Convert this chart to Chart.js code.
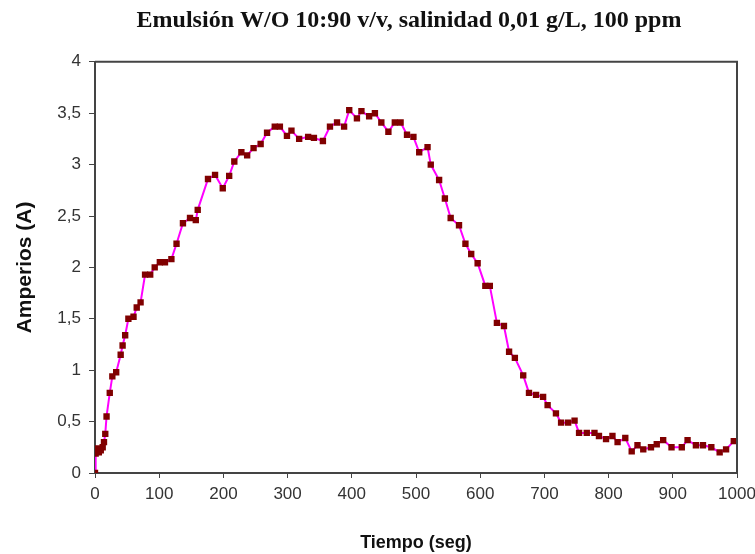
<!DOCTYPE html>
<html>
<head>
<meta charset="utf-8">
<script src="https://cdn.jsdelivr.net/npm/chart.js@4.4.1/dist/chart.umd.min.js"></script>
<style>
html,body{margin:0;padding:0;background:#fff;}
#wrap{width:755px;height:554px;position:relative;}
</style>
</head>
<body>
<div id="wrap"><canvas id="c" width="755" height="554"></canvas></div>
<script>
const chartTitle = "Emulsión W/O 10:90 v/v, salinidad 0,01 g/L, 100 ppm";
const xAxisTitle = "Tiempo (seg)";
const yAxisTitle = "Amperios (A)";
const seriesName = "Amperios";

const tiempo = [0,1,3,6,9,12,14,16,18,23,27,33,40,43,47,52,60,65,71,78,86,93,101,109,119,127,137,148,157,160,176,187,199,209,217,228,237,247,258,268,280,288,299,306,318,332,341,355,366,377,388,396,408,415,427,436,446,457,467,476,486,496,505,518,523,536,545,554,567,577,586,596,608,615,626,637,645,654,667,676,687,698,705,718,726,737,747,754,766,778,785,796,806,814,826,836,845,854,866,875,885,898,914,923,936,947,960,973,983,995];
const amperios = [0,0.19,0.24,0.20,0.22,0.25,0.30,0.38,0.55,0.78,0.94,0.98,1.15,1.24,1.34,1.50,1.52,1.61,1.66,1.93,1.93,2.00,2.05,2.05,2.08,2.23,2.43,2.48,2.46,2.56,2.86,2.90,2.77,2.89,3.03,3.12,3.09,3.16,3.20,3.31,3.37,3.37,3.28,3.33,3.25,3.27,3.26,3.23,3.37,3.41,3.37,3.53,3.45,3.52,3.47,3.50,3.41,3.32,3.41,3.41,3.29,3.27,3.12,3.17,3.00,2.85,2.67,2.48,2.41,2.23,2.13,2.04,1.82,1.82,1.46,1.43,1.18,1.12,0.95,0.78,0.76,0.74,0.66,0.58,0.49,0.49,0.51,0.39,0.39,0.39,0.36,0.33,0.36,0.30,0.34,0.21,0.27,0.23,0.25,0.28,0.32,0.25,0.25,0.32,0.27,0.27,0.25,0.20,0.23,0.31];

const points = tiempo.map((t,i)=>({x:t,y:amperios[i]}));

const titleFont = 'bold 24px "Liberation Serif", "Times New Roman", serif';

const framePlugin = {
  id:'frame',
  afterDraw(chart){
    const a = chart.chartArea, ctx = chart.ctx;
    ctx.save();
    ctx.strokeStyle = '#444';
    ctx.lineWidth = 2;
    ctx.beginPath();
    ctx.moveTo(a.left, a.top); ctx.lineTo(a.right, a.top); ctx.lineTo(a.right, a.bottom);
    ctx.stroke();
    // chart title, centred slightly right like the original
    ctx.fillStyle = '#111';
    ctx.font = titleFont;
    ctx.textAlign = 'center';
    ctx.textBaseline = 'alphabetic';
    ctx.fillText(chartTitle, 409, 27);
    ctx.restore();
  }
};
const bgPlugin = {
  id:'bg',
  beforeDraw(chart){
    const ctx = chart.ctx;
    ctx.save(); ctx.fillStyle='#fff'; ctx.fillRect(0,0,chart.width,chart.height); ctx.restore();
  }
};

const sans = '"Liberation Sans", Arial, sans-serif';

new Chart(document.getElementById('c'), {
  type:'scatter',
  data:{datasets:[{
    label:seriesName,
    data:points,
    showLine:true,
    borderColor:'#FF00FF',
    borderWidth:2,
    pointStyle:'rect',
    pointRadius:4.5,
    pointBackgroundColor:'#800000',
    pointBorderColor:'#800000',
    pointBorderWidth:0,
    tension:0
  }]},
  options:{
    responsive:false,
    animation:false,
    layout:{padding:{left:13,right:18,top:0,bottom:0}},
    plugins:{
      legend:{display:false},
      tooltip:{enabled:false},
      title:{display:true,text:chartTitle,color:'rgba(0,0,0,0)',
        font:{family:'"Liberation Serif", "Times New Roman", serif',size:24,weight:'bold'},
        padding:{top:6,bottom:27}}
    },
    scales:{
      x:{type:'linear',min:0,max:1000,
        ticks:{stepSize:100,color:'#333',font:{family:sans,size:17},padding:6,maxRotation:0,
          callback:v=>String(v)},
        grid:{display:true,drawOnChartArea:false,drawTicks:true,tickLength:5,color:'#444',lineWidth:1},
        border:{display:true,color:'#444',width:2},
        title:{display:true,text:xAxisTitle,color:'#111',font:{family:sans,size:18,weight:'bold'},padding:{top:20,bottom:0}},
        afterFit(s){s.height=81; s.paddingRight=0;}
      },
      y:{type:'linear',min:0,max:4,
        ticks:{stepSize:0.5,color:'#333',font:{family:sans,size:17},padding:8,
          callback:v=>String(v).replace('.',',')},
        grid:{display:true,drawOnChartArea:false,drawTicks:true,tickLength:6,color:'#444',lineWidth:1},
        border:{display:true,color:'#444',width:2},
        title:{display:true,text:yAxisTitle,color:'#111',font:{family:sans,size:21,weight:'bold'},padding:{top:0,bottom:0}},
        afterFit(s){s.width=82;}
      }
    }
  },
  plugins:[bgPlugin,framePlugin]
});
</script>
</body>
</html>
